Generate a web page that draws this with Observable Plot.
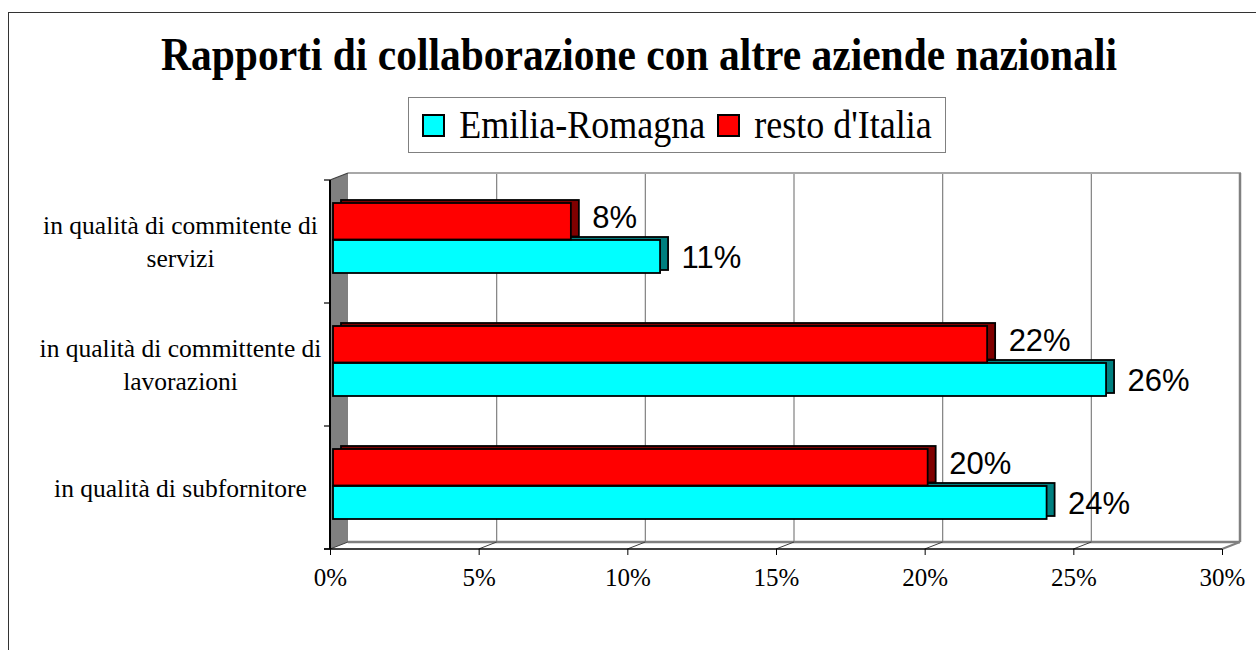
<!DOCTYPE html>
<html><head><meta charset="utf-8">
<script src="https://cdn.jsdelivr.net/npm/d3@7"></script>
<script src="https://cdn.jsdelivr.net/npm/@observablehq/plot@0.6"></script>
<style>
body{margin:0;background:#fff;}
#wrap{position:relative;width:1256px;height:650px;overflow:hidden;background:#fff;}
#frame{position:absolute;left:8px;top:12px;width:1300px;height:700px;border:1.5px solid #333;box-sizing:border-box;}
#title{position:absolute;left:8px;top:27px;width:1262px;text-align:center;font:bold 41.5px "Liberation Serif";color:#000;white-space:nowrap;transform:scaleY(1.12);transform-origin:50% 0;}
#legend{position:absolute;left:408px;top:97px;width:538px;height:56px;border:1.5px solid #808080;box-sizing:border-box;display:flex;align-items:center;justify-content:center;font:36px "Liberation Serif";color:#000;white-space:nowrap;}
#legend .sw{display:inline-block;width:19px;height:19px;border:2px solid #000;margin:0 14px 0 0;}
#legend .item{display:flex;align-items:center;margin:0 6px;}
#legend .lbl{display:inline-block;transform:scaleY(1.12);}
#chart{position:absolute;left:0;top:0;}
</style></head>
<body>
<div id="wrap">
  <div id="frame"></div>
  <div id="chart"></div>
  <div id="title"></div>
  <div id="legend"></div>
</div>
<script>
const titleText = "Rapporti di collaborazione con altre aziende nazionali";
const categories = [
  "in qualità di commitente di\nservizi",
  "in qualità di committente di\nlavorazioni",
  "in qualità di subfornitore"
];
const seriesNames = ["Emilia-Romagna", "resto d'Italia"];
const seriesColors = ["#00FFFF", "#FF0000"];
const seriesSideColors = ["#008080", "#800000"];
const emiliaRomagna = [0.11, 0.26, 0.24];
const restoItalia = [0.08, 0.22, 0.20];
const xTicks = [0, 0.05, 0.10, 0.15, 0.20, 0.25, 0.30];

document.getElementById("title").textContent = titleText;
const leg = document.getElementById("legend");
seriesNames.forEach((n, i) => {
  const it = document.createElement("span");
  it.className = "item";
  const sw = document.createElement("span");
  sw.className = "sw";
  sw.style.background = seriesColors[i];
  it.appendChild(sw);
  const lb = document.createElement("span");
  lb.className = "lbl";
  lb.textContent = n;
  it.appendChild(lb);
  leg.appendChild(it);
});

const erRows = categories.map((c, i) => ({cat: c, value: emiliaRomagna[i]}));
const riRows = categories.map((c, i) => ({cat: c, value: restoItalia[i]}));
const pct = d => Math.round(d * 100) + "%";

const DX = 18, DY = -7;
function walls(index, scales, values, dim) {
  const {x, y} = scales;
  const X0 = x(0), X1 = x(xTicks[xTicks.length - 1]);
  const Y0 = dim.marginTop, Y1 = dim.height - dim.marginBottom;
  const g = d3.create("svg:g");
  g.append("path").attr("d", `M${X0},${Y0}L${X0+DX},${Y0+DY}L${X0+DX},${Y1+DY}L${X0},${Y1}Z`).attr("fill", "#808080");
  xTicks.slice(1).forEach(v => {
    g.append("line").attr("x1", x(v)+DX).attr("x2", x(v)+DX).attr("y1", Y0+DY).attr("y2", Y1+DY)
      .attr("stroke", "#808080").attr("stroke-width", 1.2);
  });
  g.append("line").attr("x1", X0+DX).attr("x2", X1+DX+1).attr("y1", Y0+DY).attr("y2", Y0+DY).attr("stroke", "#a8a8a8").attr("stroke-width", 2);
  g.append("line").attr("x1", X1+DX).attr("x2", X1+DX).attr("y1", Y0+DY).attr("y2", Y1+DY).attr("stroke", "#808080").attr("stroke-width", 2.5);
  g.append("line").attr("x1", X0+DX).attr("x2", X1+DX).attr("y1", Y1+DY).attr("y2", Y1+DY).attr("stroke", "#808080").attr("stroke-width", 2.5);
  xTicks.forEach(v => {
    const last = v === xTicks[xTicks.length-1];
    g.append("line").attr("x1", x(v)).attr("x2", x(v)+DX).attr("y1", Y1).attr("y2", Y1+DY)
      .attr("stroke", last ? "#808080" : "#404040").attr("stroke-width", last ? 2 : 1);
  });
  g.append("line").attr("x1", X0).attr("x2", X0+DX).attr("y1", Y0).attr("y2", Y0+DY).attr("stroke", "#404040").attr("stroke-width", 1.2);
  g.append("line").attr("x1", X0).attr("x2", X0).attr("y1", Y0).attr("y2", Y1).attr("stroke", "#000").attr("stroke-width", 2);
  const bw = y.bandwidth();
  const bounds = categories.map(c => y(c)).concat([y(categories[categories.length-1]) + bw]);
  bounds.forEach(b => {
    g.append("line").attr("x1", X0-6).attr("x2", X0).attr("y1", b).attr("y2", b).attr("stroke", "#000").attr("stroke-width", 1.2);
  });
  g.append("line").attr("x1", X0-6).attr("x2", X1).attr("y1", Y1).attr("y2", Y1).attr("stroke", "#000").attr("stroke-width", 1.5);
  return g.node();
}

const barCommon = {y: "cat", x: "value", stroke: "#000", strokeWidth: 1.8};
const redIns = {insetTop: 23, insetBottom: 63.5};
const cyanIns = {insetTop: 60, insetBottom: 30};

const plot = Plot.plot({
  width: 1256,
  height: 650,
  marginLeft: 330,
  marginRight: 34,
  marginTop: 180,
  marginBottom: 101,
  style: {background: "transparent", fontFamily: "Liberation Serif", fontSize: "25px", color: "#000", overflow: "visible"},
  x: {domain: [0, 0.30], label: null},
  y: {domain: categories, padding: 0, axis: null},
  marks: [
    walls,
    Plot.barX(erRows, {...barCommon, ...cyanIns, fill: seriesSideColors[0], dx: 11, dy: -3}),
    Plot.barX(erRows, {...barCommon, ...cyanIns, fill: seriesColors[0], dx: 3}),
    Plot.barX(riRows, {...barCommon, ...redIns, fill: seriesSideColors[1], dx: 11, dy: -3}),
    Plot.barX(riRows, {...barCommon, ...redIns, fill: seriesColors[1], dx: 3}),
    Plot.text(riRows, {x: "value", y: "cat", text: d => pct(d.value), textAnchor: "start", dx: 24, dy: -24, fontFamily: "Liberation Sans", fontSize: 31, fill: "#000"}),
    Plot.text(erRows, {x: "value", y: "cat", text: d => pct(d.value), textAnchor: "start", dx: 24, dy: 16, fontFamily: "Liberation Sans", fontSize: 31, fill: "#000"}),
    Plot.text(categories, {y: d => d, text: d => d, frameAnchor: "left", dx: -150, dy: -2, textAnchor: "middle", lineHeight: 1.3, fontFamily: "Liberation Serif", fontSize: 25.5, fill: "#000"}),
    Plot.axisX({ticks: xTicks, tickFormat: pct, tickSize: 6, tickPadding: 13, stroke: "#000", fontSize: 25, fontFamily: "Liberation Serif", label: null})
  ]
});
document.getElementById("chart").appendChild(plot);
</script>
</body></html>
